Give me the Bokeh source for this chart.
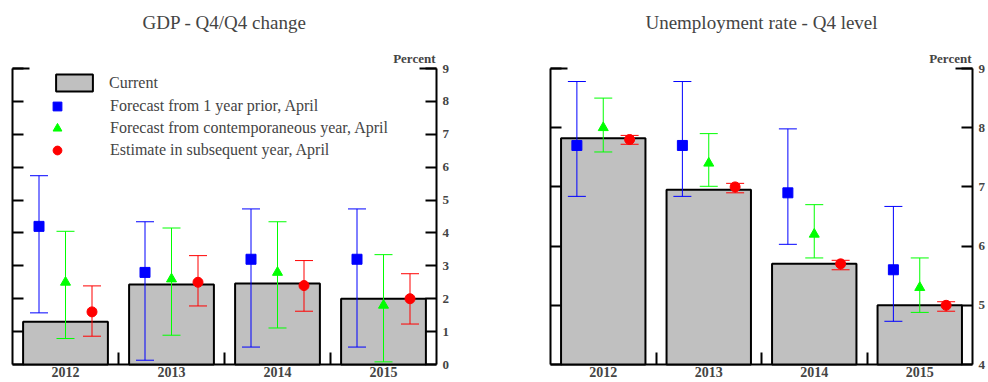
from bokeh.plotting import figure
from bokeh.layouts import row
from bokeh.models import (ColumnDataSource, Range1d, LinearAxis, FixedTicker, Whisker,
                          TeeHead, Legend, LegendItem, Title)
from bokeh.transform import dodge
from bokeh.embed import file_html
from bokeh.resources import INLINE

# ---------------- data ----------------
years = ["2012", "2013", "2014", "2015"]

gdp_current = [1.3, 2.43, 2.46, 2.0]
gdp_prior = [4.2, 2.8, 3.2, 3.2]
gdp_prior_lo = [1.57, 0.13, 0.53, 0.53]
gdp_prior_hi = [5.74, 4.34, 4.73, 4.73]
gdp_contemp = [2.5, 2.6, 2.8, 1.8]
gdp_contemp_lo = [0.79, 0.89, 1.11, 0.08]
gdp_contemp_hi = [4.05, 4.15, 4.34, 3.34]
gdp_subseq = [1.6, 2.5, 2.4, 2.0]
gdp_subseq_lo = [0.86, 1.78, 1.62, 1.23]
gdp_subseq_hi = [2.39, 3.31, 3.16, 2.76]

un_current = [7.82, 6.95, 5.7, 5.0]
un_prior = [7.7, 7.7, 6.9, 5.6]
un_prior_lo = [6.84, 6.84, 6.03, 4.73]
un_prior_hi = [8.78, 8.78, 7.98, 6.67]
un_contemp = [8.0, 7.4, 6.2, 5.3]
un_contemp_lo = [7.59, 7.01, 5.80, 4.88]
un_contemp_hi = [8.50, 7.90, 6.70, 5.80]
un_subseq = [7.8, 7.0, 5.7, 5.0]
un_subseq_lo = [7.72, 6.90, 5.60, 4.90]
un_subseq_hi = [7.87, 7.06, 5.76, 5.06]

legend_labels = ["Current",
                 "Forecast from 1 year prior, April",
                 "Forecast from contemporaneous year, April",
                 "Estimate in subsequent year, April"]

FONT = "Liberation Serif"
BLUE, GREEN, RED, GRAY = "#0000ff", "#00ff00", "#ff0000", "#c0c0c0"
CORNER = 0.16   # length of the longer top corner ticks, in category widths


def make_panel(title, current, series, y_lo, y_hi, width, b_left, b_right, show_legend):
    n = len(years)
    xs = list(range(n))
    x0, x1 = -0.5, n - 0.5
    p = figure(width=width, height=382, title=None,
               x_range=Range1d(x0, x1), y_range=Range1d(y_lo, y_hi),
               output_backend="svg", toolbar_location=None,
               x_axis_location=None, y_axis_location=None,
               min_border_left=b_left, min_border_right=b_right,
               min_border_top=68, min_border_bottom=18)
    p.grid.visible = False
    p.outline_line_color = None
    p.background_fill_color = "white"
    p.border_fill_color = "white"

    # longer corner ticks at the top of both vertical axes
    for bnds in [(x0, x0 + CORNER), (x1 - CORNER, x1)]:
        p.add_layout(LinearAxis(ticker=FixedTicker(ticks=[]), bounds=bnds,
                                axis_line_width=2, major_tick_line_color=None,
                                minor_tick_line_color=None, major_tick_out=0,
                                minor_tick_out=0, major_label_standoff=0), "above")

    # "Percent" unit label (near the frame) and main title (outermost)
    p.add_layout(Title(text="Percent", align="right", offset=1, standoff=6,
                       vertical_align="bottom", text_font=FONT,
                       text_font_size="13px", text_font_style="bold"), "above")
    p.add_layout(Title(text=title, align="center", standoff=22, vertical_align="top",
                       text_font=FONT, text_font_size="19px",
                       text_font_style="normal"), "above")

    # bottom axis: labels at centers, ticks at category boundaries
    xaxis = LinearAxis(
        ticker=FixedTicker(ticks=xs, minor_ticks=[i + 0.5 for i in xs[:-1]]),
        major_label_overrides={i: y for i, y in zip(xs, years)},
        major_tick_in=0, major_tick_out=0,
        minor_tick_in=12, minor_tick_out=0, minor_tick_line_width=2,
        minor_tick_line_color="black",
        axis_line_width=2, major_label_standoff=2,
        major_label_text_font=FONT, major_label_text_font_size="14px",
        major_label_text_font_style="bold")
    p.add_layout(xaxis, "below")

    yticks = list(range(int(y_lo), int(y_hi) + 1))
    # left axis: ticks only (drawn as minor ticks so no labels are produced)
    lax = LinearAxis(ticker=FixedTicker(ticks=[], minor_ticks=yticks),
                     major_tick_line_color=None, major_label_standoff=0,
                     minor_tick_in=11, minor_tick_out=0, minor_tick_line_width=2,
                     minor_tick_line_color="black", axis_line_width=2)
    p.add_layout(lax, "left")
    rax = LinearAxis(ticker=FixedTicker(ticks=yticks),
                     major_label_text_font=FONT, major_label_text_font_size="13px",
                     major_label_text_font_style="bold", major_label_standoff=6,
                     major_tick_in=11, major_tick_out=0, major_tick_line_width=2,
                     axis_line_width=2, minor_tick_line_color=None)
    p.add_layout(rax, "right")

    data = dict(x=xs, cur=current)
    for k, (vals, lo, hi) in enumerate(series):
        data[f"v{k}"] = vals
        data[f"lo{k}"] = lo
        data[f"hi{k}"] = hi
    src = ColumnDataSource(data)

    bars = p.vbar(x="x", top="cur", bottom=y_lo, width=0.8, source=src,
                  fill_color=GRAY, line_color="black", line_width=2, level="annotation")

    styles = [(BLUE, "square", 10, -0.25), (GREEN, "triangle", 10, 0.0), (RED, "circle", 10, 0.25)]
    marks = []
    for k, (color, marker, size, off) in enumerate(styles):
        w = Whisker(source=src, base=dodge("x", off), upper=f"hi{k}", lower=f"lo{k}",
                    dimension="height", line_color=color, line_width=1,
                    upper_head=TeeHead(size=18, line_color=color, line_width=1),
                    lower_head=TeeHead(size=18, line_color=color, line_width=1),
                    level="overlay")
        p.add_layout(w)
        r = p.scatter(x=dodge("x", off), y=f"v{k}", source=src, marker=marker, size=size,
                      fill_color=color, line_color=color, level="overlay")
        marks.append(r)

    if show_legend:
        common = dict(border_line_color=None, background_fill_alpha=0,
                      padding=0, margin=0, spacing=0,
                      label_text_font=FONT, label_text_font_size="16px",
                      label_height=20)
        legA = Legend(items=[LegendItem(label=legend_labels[0], renderers=[bars])],
                      location=(39, 271), glyph_width=46, glyph_height=21,
                      label_standoff=12, **common)
        legB = Legend(items=[LegendItem(label=lab, renderers=[r])
                             for lab, r in zip(legend_labels[1:], marks)],
                      location=(34, 203), glyph_width=22, glyph_height=22,
                      label_standoff=42, **common)
        p.add_layout(legA)
        p.add_layout(legB)
    return p


p1 = make_panel("GDP - Q4/Q4 change", gdp_current,
                [(gdp_prior, gdp_prior_lo, gdp_prior_hi),
                 (gdp_contemp, gdp_contemp_lo, gdp_contemp_hi),
                 (gdp_subseq, gdp_subseq_lo, gdp_subseq_hi)],
                0, 9, 494, 12, 58, True)
p2 = make_panel("Unemployment rate - Q4 level", un_current,
                [(un_prior, un_prior_lo, un_prior_hi),
                 (un_contemp, un_contemp_lo, un_contemp_hi),
                 (un_subseq, un_subseq_lo, un_subseq_hi)],
                4, 9, 494, 56, 12, False)

layout = row(p1, p2)
open("out.html", "w").write(file_html(layout, INLINE))
